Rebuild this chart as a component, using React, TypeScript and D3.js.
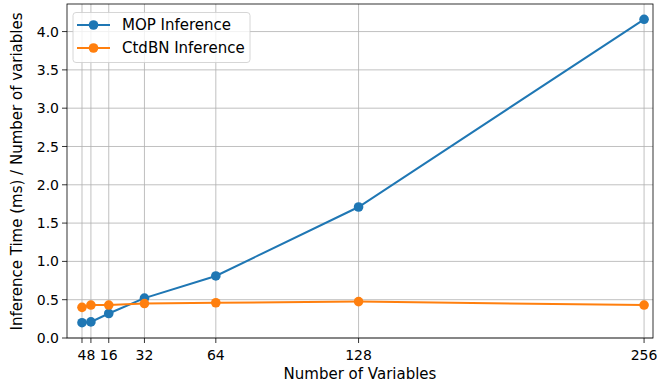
import React from "react";
import * as d3 from "d3";

const nVars = [4, 8, 16, 32, 64, 128, 256];
const mopTimes = [0.2, 0.21, 0.32, 0.52, 0.81, 1.71, 4.16];
const ctdbnTimes = [0.4, 0.43, 0.43, 0.45, 0.46, 0.475, 0.43];
const yTicks = [0, 0.5, 1, 1.5, 2, 2.5, 3, 3.5, 4];
const seriesNames = ["MOP Inference", "CtdBN Inference"];
const colors = ["#1f77b4", "#ff7f0e"];

const W = 657, H = 383;
const L = 67, R = 653, T = 4, B = 338;
const FONT = "DejaVu Sans, sans-serif";

export default function App() {
  const x = d3.scaleLinear().domain([-2.72, 260]).range([L, R]);
  const y = d3.scaleLinear().domain([0, 4.36]).range([B, T]);
  const line = d3.line<[number, number]>().x(d => x(d[0])).y(d => y(d[1]));
  const series = [mopTimes, ctdbnTimes];
  const fs = 14;
  const lfs = 15;
  return (
    <svg width={W} height={H} style={{ position: "absolute", left: 0, top: 0 }} fontFamily={FONT}>
      <rect x={0} y={0} width={W} height={H} fill="#fff" />
      <g>
        {nVars.map(v => (
          <line key={"gx" + v} x1={x(v)} x2={x(v)} y1={T} y2={B} stroke="#b0b0b0" strokeWidth={0.8} />
        ))}
        {yTicks.map(v => (
          <line key={"gy" + v} x1={L} x2={R} y1={y(v)} y2={y(v)} stroke="#b0b0b0" strokeWidth={0.8} />
        ))}
      </g>
      {series.map((s, i) => {
        const pts = nVars.map((v, j) => [v, s[j]] as [number, number]);
        return (
          <g key={"s" + i}>
            <path d={line(pts) || ""} fill="none" stroke={colors[i]} strokeWidth={2} />
            {pts.map((p, j) => (
              <circle key={j} cx={x(p[0])} cy={y(p[1])} r={4.8} fill={colors[i]} />
            ))}
          </g>
        );
      })}
      <rect x={L} y={T} width={R - L} height={B - T} fill="none" stroke="#000" strokeWidth={0.8} />
      {nVars.map(v => (
        <g key={"tx" + v}>
          <line x1={x(v)} x2={x(v)} y1={B} y2={B + 5} stroke="#000" strokeWidth={0.8} />
          <text x={x(v)} y={B + 21.5} textAnchor="middle" fontSize={fs} fill="#000">{v}</text>
        </g>
      ))}
      {yTicks.map(v => (
        <g key={"ty" + v}>
          <line x1={L - 5} x2={L} y1={y(v)} y2={y(v)} stroke="#000" strokeWidth={0.8} />
          <text x={L - 8} y={y(v)} dy="0.36em" textAnchor="end" fontSize={fs} fill="#000">{d3.format(".1f")(v)}</text>
        </g>
      ))}
      <text x={(L + R) / 2} y={378.5} textAnchor="middle" fontSize={lfs} fill="#000">Number of Variables</text>
      <text transform={`translate(22,${(T + B) / 2 + 0.5}) rotate(-90)`} textAnchor="middle" fontSize={lfs} fill="#000">
        Inference Time (ms) / Number of variables
      </text>
      <g>
        <rect x={73} y={12.5} width={177} height={50} rx={3} fill="#fff" fillOpacity={0.8} stroke="#cccccc" strokeWidth={0.8} />
        {seriesNames.map((n, i) => (
          <g key={n} transform={`translate(0,${25 + i * 23})`}>
            <line x1={77} x2={110} y1={0} y2={0} stroke={colors[i]} strokeWidth={2} />
            <circle cx={93.5} cy={0} r={4.8} fill={colors[i]} />
            <text x={122} y={0} dy="0.36em" fontSize={lfs} fill="#000">{n}</text>
          </g>
        ))}
      </g>
    </svg>
  );
}
